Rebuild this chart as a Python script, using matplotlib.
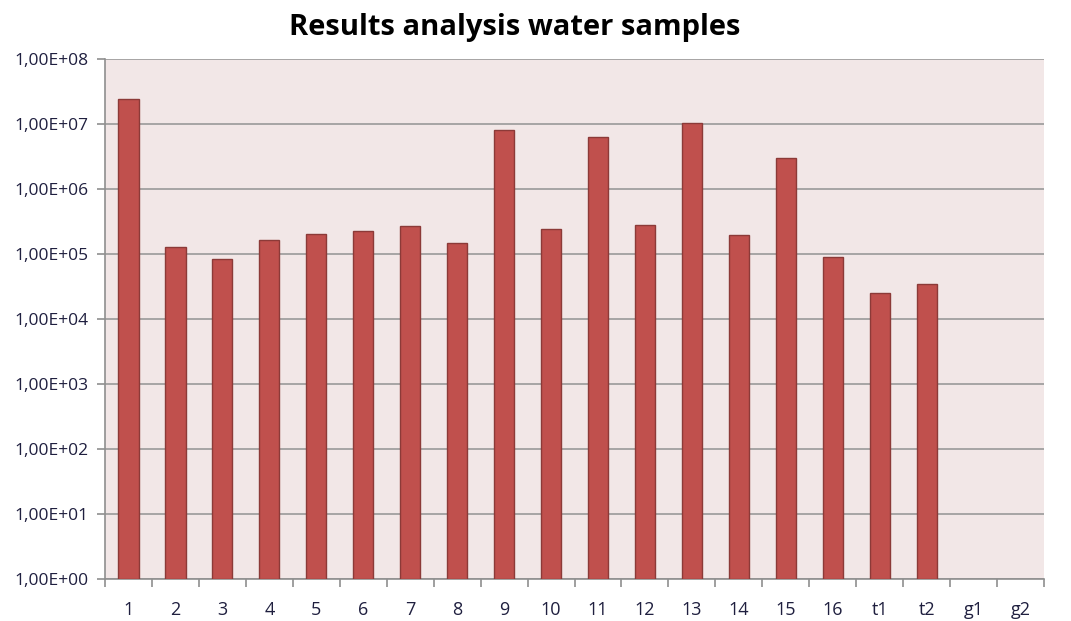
import matplotlib
matplotlib.use("Agg")
import matplotlib.pyplot as plt
import numpy as np
from matplotlib.ticker import FuncFormatter, FixedLocator

categories = ["1", "2", "3", "4", "5", "6", "7", "8", "9", "10", "11", "12",
              "13", "14", "15", "16", "t1", "t2", "g1", "g2"]
values = [2.44e7, 1.27e5, 8.3e4, 1.62e5, 2.0e5, 2.24e5, 2.66e5, 1.5e5, 8.2e6,
          2.4e5, 6.2e6, 2.75e5, 1.05e7, 1.94e5, 3.04e6, 8.9e4, 2.5e4, 3.46e4,
          np.nan, np.nan]
title = "Results analysis water samples"

plt.rcParams['font.family'] = ['Open Sans', 'DejaVu Sans']

fig = plt.figure(figsize=(10.71, 6.21), dpi=100)
ax = fig.add_axes([105/1071, 1 - 579/621, (1044-105)/1071, (579-59)/621])
ax.set_facecolor("#F2E7E7")

x = np.arange(len(categories))
ax.bar(x, values, width=0.43, bottom=1, color="#C0504D", edgecolor="#8C3A38",
       linewidth=1.0, zorder=3)

ax.set_yscale("log")
ax.set_ylim(1, 1e8)
ax.set_xlim(-0.5, len(categories) - 0.5)
ax.yaxis.set_major_locator(FixedLocator([10**k for k in range(9)]))
ax.yaxis.set_minor_locator(FixedLocator([]))

def fmt(v, pos):
    e = int(round(np.log10(v)))
    return "1,00E+%02d" % e
ax.yaxis.set_major_formatter(FuncFormatter(fmt))

ax.grid(axis="y", color="#9A9A9A", linewidth=1.2, zorder=1)
ax.set_axisbelow(True)

ax.set_xticks(x)
ax.set_xticklabels(categories)
ax.set_xticks(np.arange(-0.5, len(categories)), minor=True)
ax.tick_params(axis="x", which="major", length=0, pad=16, labelsize=13, colors="#1F1F3F")
ax.tick_params(axis="x", which="minor", length=6, color="#8F8F8F", width=1.2)
ax.tick_params(axis="y", which="major", length=6, color="#8F8F8F", width=1.2,
               labelsize=12.5, pad=6, labelcolor="#1F1F3F")

for s in ["top", "right"]:
    ax.spines[s].set_visible(False)
for s in ["left", "bottom"]:
    ax.spines[s].set_color("#8F8F8F")
    ax.spines[s].set_linewidth(1.2)

fig.text(515/1071, 1 - 28/621, title, ha="center", va="center",
         fontsize=21, fontweight="bold", color="black")

fig.savefig("out.png", dpi=100)
